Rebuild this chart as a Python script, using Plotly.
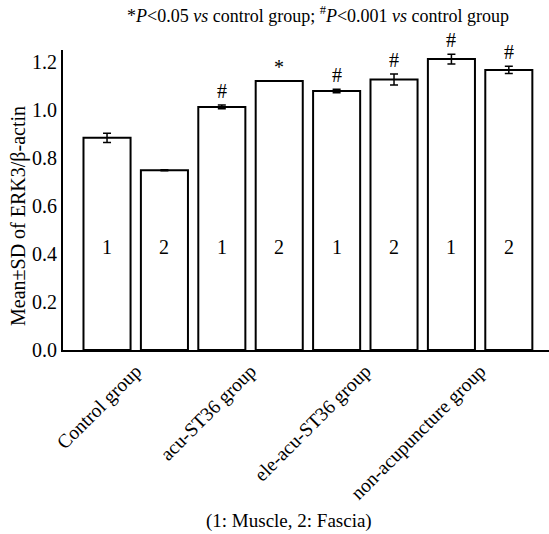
import plotly.graph_objects as go

groups = ["Control group", "acu-ST36 group", "ele-acu-ST36 group", "non-acupuncture group"]
tissue_labels = ["1", "2", "1", "2", "1", "2", "1", "2"]
means = [0.884, 0.749, 1.013, 1.121, 1.079, 1.127, 1.212, 1.167]
sds = [0.019, 0.002, 0.008, 0.0, 0.007, 0.023, 0.020, 0.015]
signif = ["", "", "#", "*", "#", "#", "#", "#"]
yticks = [0.0, 0.2, 0.4, 0.6, 0.8, 1.0, 1.2]
ytick_text = ["0.0", "0.2", "0.4", "0.6", "0.8", "1.0", "1.2"]

xpos = list(range(len(means)))
group_pos = [0.5, 2.5, 4.5, 6.5]
FONT = "Liberation Serif"

fig = go.Figure()
fig.add_trace(go.Bar(
    x=xpos, y=means, width=0.82,
    marker=dict(color="white", line=dict(color="black", width=2)),
    error_y=dict(type="data", array=sds, visible=True, color="black", thickness=1.5, width=4),
    showlegend=False,
))

annotations = []
for x, t in zip(xpos, tissue_labels):
    annotations.append(dict(x=x, y=0.43, text=t, showarrow=False,
                            font=dict(family=FONT, size=20, color="black")))
for x, m, s, t in zip(xpos, means, sds, signif):
    if t:
        annotations.append(dict(x=x, y=m + s, text=t, showarrow=False, yanchor="bottom",
                                yshift=1, font=dict(family=FONT, size=20, color="black")))

annotations.append(dict(
    xref="paper", yref="paper", x=(318 - 63) / 486, y=1 + (50 - 15) / 300,
    text="*<i>P</i>&lt;0.05 <i>vs</i> control group; <sup>#</sup><i>P</i>&lt;0.001 <i>vs</i> control group",
    showarrow=False, xanchor="center", yanchor="middle",
    font=dict(family=FONT, size=18, color="black")))
annotations.append(dict(
    xref="paper", yref="paper", x=(18 - 63) / 486, y=1 - (216 - 50) / 300,
    text="Mean±SD of ERK3/β-actin", textangle=-90,
    showarrow=False, xanchor="center", yanchor="middle",
    font=dict(family=FONT, size=20, color="black")))
annotations.append(dict(
    xref="paper", yref="paper", x=(289 - 63) / 486, y=-(521 - 350) / 300,
    text="(1: Muscle, 2: Fascia)",
    showarrow=False, xanchor="center", yanchor="middle",
    font=dict(family=FONT, size=19, color="black")))

fig.update_layout(
    width=549, height=534,
    margin=dict(l=63, r=0, t=50, b=184),
    plot_bgcolor="white", paper_bgcolor="white",
    annotations=annotations,
    xaxis=dict(range=[-0.767, 7.70], tickmode="array", tickvals=group_pos, ticktext=groups,
               tickangle=-45, showline=True, linecolor="black", linewidth=2,
               showgrid=False, zeroline=False, ticks="",
               tickfont=dict(family=FONT, size=19.5, color="black")),
    yaxis=dict(range=[0, 1.25], tickmode="array", tickvals=yticks, ticktext=ytick_text,
               showline=True, linecolor="black", linewidth=2, showgrid=False,
               zeroline=False, ticks="", ticklen=0,
               tickfont=dict(family=FONT, size=20, color="black")),
)

fig.write_html("out.html")
